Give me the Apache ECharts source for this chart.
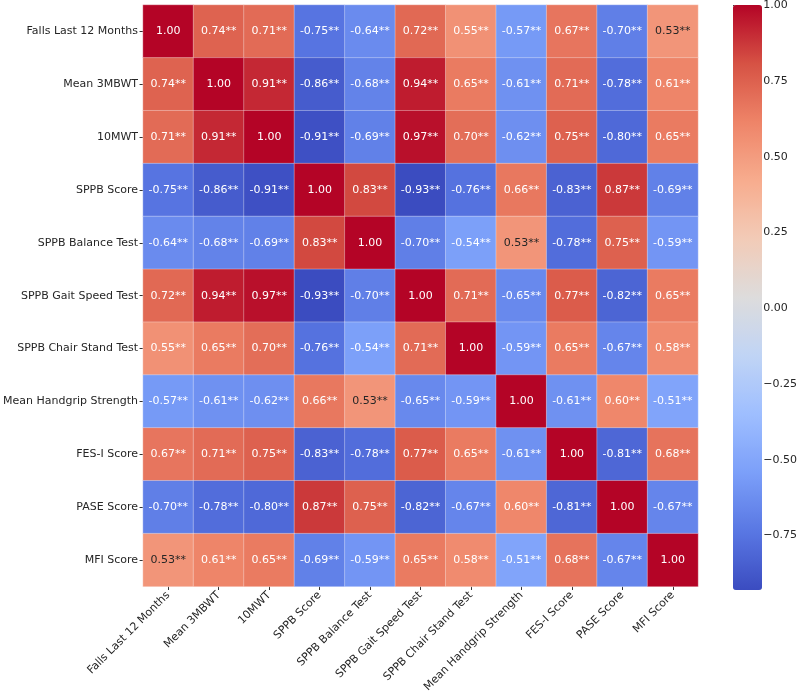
<!DOCTYPE html>
<html>
<head>
<meta charset="utf-8">
<script src="https://cdn.jsdelivr.net/npm/echarts@6/dist/echarts.min.js"></script>
<style>html,body{margin:0;padding:0;background:#fff}#c{width:800px;height:695px}</style>
</head>
<body>
<div id="c"></div>
<script>
const categories = ["Falls Last 12 Months","Mean 3MBWT","10MWT","SPPB Score","SPPB Balance Test","SPPB Gait Speed Test","SPPB Chair Stand Test","Mean Handgrip Strength","FES-I Score","PASE Score","MFI Score"];
const row0  = [1.00, 0.74, 0.71, -0.75, -0.64, 0.72, 0.55, -0.57, 0.67, -0.70, 0.53];
const row1  = [0.74, 1.00, 0.91, -0.86, -0.68, 0.94, 0.65, -0.61, 0.71, -0.78, 0.61];
const row2  = [0.71, 0.91, 1.00, -0.91, -0.69, 0.97, 0.70, -0.62, 0.75, -0.80, 0.65];
const row3  = [-0.75, -0.86, -0.91, 1.00, 0.83, -0.93, -0.76, 0.66, -0.83, 0.87, -0.69];
const row4  = [-0.64, -0.68, -0.69, 0.83, 1.00, -0.70, -0.54, 0.53, -0.78, 0.75, -0.59];
const row5  = [0.72, 0.94, 0.97, -0.93, -0.70, 1.00, 0.71, -0.65, 0.77, -0.82, 0.65];
const row6  = [0.55, 0.65, 0.70, -0.76, -0.54, 0.71, 1.00, -0.59, 0.65, -0.67, 0.58];
const row7  = [-0.57, -0.61, -0.62, 0.66, 0.53, -0.65, -0.59, 1.00, -0.61, 0.60, -0.51];
const row8  = [0.67, 0.71, 0.75, -0.83, -0.78, 0.77, 0.65, -0.61, 1.00, -0.81, 0.68];
const row9  = [-0.70, -0.78, -0.80, 0.87, 0.75, -0.82, -0.67, 0.60, -0.81, 1.00, -0.67];
const row10 = [0.53, 0.61, 0.65, -0.69, -0.59, 0.65, 0.58, -0.51, 0.68, -0.67, 1.00];
const matrix = [row0,row1,row2,row3,row4,row5,row6,row7,row8,row9,row10];
const colorbarTicks = [-0.75, -0.5, -0.25, 0, 0.25, 0.5, 0.75, 1.0];
const vmin = -0.93, vmax = 1.00;

const coolwarm = ['#3b4cc0','#5977e3','#7b9ff9','#9ebeff','#c0d4f5','#dddcdc','#f2cbb7','#f7ac8e','#ee8468','#d65244','#b40426'];
function hex2rgb(h){return [parseInt(h.slice(1,3),16),parseInt(h.slice(3,5),16),parseInt(h.slice(5,7),16)];}
function cmap(v){
  let t=(v-vmin)/(vmax-vmin); t=Math.max(0,Math.min(1,t));
  const p=t*10, i=Math.min(9,Math.floor(p)), f=p-i;
  const a=hex2rgb(coolwarm[i]), b=hex2rgb(coolwarm[i+1]);
  return a.map((x,k)=>x+(b[k]-x)*f);
}
function lum(rgb){
  const c=rgb.map(x=>{x/=255;return x<=0.03928?x/12.92:Math.pow((x+0.055)/1.055,2.4);});
  return 0.2126*c[0]+0.7152*c[1]+0.0722*c[2];
}
const data=[];
matrix.forEach((r,i)=>r.forEach((v,j)=>{
  const tc = lum(cmap(v))>0.408 ? '#262626' : '#ffffff';
  data.push({value:[j,i,v], label:{color:tc}});
}));
const FONT='DejaVu Sans';
const FS=11;
const chart=echarts.init(document.getElementById('c'),null,{renderer:'canvas'});
chart.setOption({
  animation:false,
  backgroundColor:'#fff',
  textStyle:{fontFamily:FONT},
  grid:[
    {left:138,right:102,top:5,bottom:105},
    {left:733,top:5,width:29,height:585}
  ],
  xAxis:[
    {type:'category',data:categories,gridIndex:0,
     axisLine:{show:false},
     axisTick:{show:true,alignWithLabel:true,length:3.5,lineStyle:{color:'#333'}},
     axisLabel:{interval:0,rotate:45,fontSize:FS,color:'#262626',fontFamily:FONT,margin:7},
     splitLine:{show:false}},
    {type:'value',gridIndex:1,show:false}
  ],
  yAxis:[
    {type:'category',data:categories,gridIndex:0,inverse:true,
     axisLine:{show:false},
     axisTick:{show:true,alignWithLabel:true,length:3.5,lineStyle:{color:'#333'}},
     axisLabel:{interval:0,fontSize:FS,color:'#262626',fontFamily:FONT,margin:5},
     splitLine:{show:false}},
    {type:'value',gridIndex:1,min:vmin,max:vmax,position:'right',
     axisLine:{show:false},splitLine:{show:false},
     axisTick:{show:true,length:3.5,lineStyle:{color:'#333'},customValues:colorbarTicks},
     axisLabel:{fontSize:FS,color:'#262626',fontFamily:FONT,margin:6,customValues:colorbarTicks,
       formatter:v=>v.toFixed(2).replace('-','\u2212')}}
  ],
  visualMap:{
    type:'continuous',min:vmin,max:vmax,seriesIndex:0,calculable:false,
    orient:'vertical',left:733,top:5,itemWidth:29,itemHeight:585,padding:0,
    text:null,showLabel:false,
    inRange:{color:coolwarm}
  },
  series:[
    {type:'heatmap',xAxisIndex:0,yAxisIndex:0,data:data,
     itemStyle:{borderColor:'rgba(255,255,255,0.55)',borderWidth:0.6},
     label:{show:true,fontSize:FS,fontFamily:FONT,
       formatter:p=>{const v=p.value[2];return p.value[0]===p.value[1]?v.toFixed(2):v.toFixed(2)+'**';}},
     emphasis:{disabled:true}},
    {type:'scatter',xAxisIndex:1,yAxisIndex:1,data:[]}
  ]
});
</script>
</body>
</html>
